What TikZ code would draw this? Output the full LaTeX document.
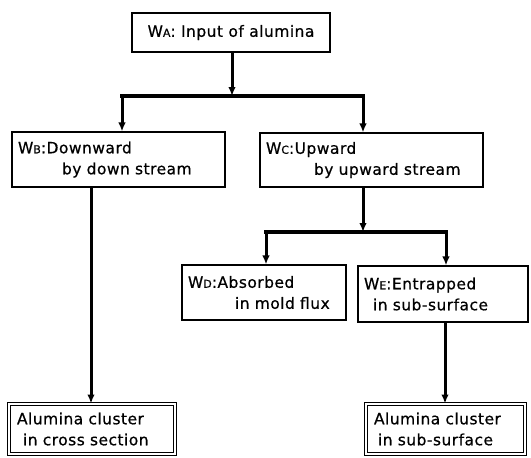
\documentclass[tikz,border=0pt]{standalone}
\usepackage{fontspec}
\setmainfont{DejaVu Sans}[LetterSpace=3,FakeBold=0.6]
\usetikzlibrary{arrows.meta}
\newcommand\wsub[1]{{\fontsize{11}{11}\selectfont #1}}
\begin{document}
\begin{tikzpicture}[x=1pt,y=-1pt,
  box/.style={draw, line width=1.1pt, inner xsep=6pt, inner ysep=0pt, align=left,
    font=\fontsize{15.5}{21}\selectfont},
  dbox/.style={box, double, line width=0.9pt, double distance=2pt, inner xsep=8pt},
  conn/.style={line width=3pt},
  arr/.style={conn, -{Latex[length=9pt,width=7.5pt]}},
  split/.style={line width=4pt, line cap=rect}
]
\useasboundingbox (0,0) rectangle (531,458);

% boxes
\node[box, minimum width=198pt, minimum height=39pt, align=center] (A) at (231,32.5)
  {W\wsub{A}: Input of alumina};
\node[box, text width=201pt, minimum height=55pt] (B) at (118.5,159.5)
  {\mbox{W\wsub{B}:Downward}\\\mbox{\hspace*{44pt}by down stream}};
\node[box, text width=211pt, minimum height=54pt] (C) at (371.5,160)
  {\mbox{W\wsub{C}:Upward}\\\mbox{\hspace*{48pt}by upward stream}};
\node[box, text width=152pt, minimum height=55pt] (D) at (264,292.5)
  {\mbox{W\wsub{D}:Absorbed}\\\mbox{\hspace*{47pt}in mold flux}};
\node[box, text width=158pt, minimum height=56pt] (E) at (443,294)
  {\mbox{W\wsub{E}:Entrapped}\\\mbox{\hspace*{9pt}in sub-surface}};
\node[dbox, text width=150pt, minimum height=50pt] (F) at (92,429)
  {\mbox{Alumina cluster}\\\mbox{\hspace*{6pt}in cross section}};
\node[dbox, text width=143pt, minimum height=50pt] (G) at (445.5,429)
  {\mbox{Alumina cluster}\\\mbox{\hspace*{4pt}in sub-surface}};

% junctions
\coordinate (j1) at (232,96);
\coordinate (j1l) at (122,96);
\coordinate (j1r) at (363,96);
\coordinate (j2) at (363,232);
\coordinate (j2l) at (266,232);
\coordinate (j2r) at (446,232);

% connectors
\draw[arr] (A.south -| j1) -- (j1);
\draw[split] (j1l) -- (j1r);
\draw[arr] (j1l) -- (j1l |- B.north);
\draw[arr] (j1r) -- (j1r |- C.north);
\draw[arr] (B.south -| 91,0) -- (F.north -| 91,0);
\draw[arr] (C.south -| j2) -- (j2);
\draw[split] (j2l) -- (j2r);
\draw[arr] (j2l) -- (j2l |- D.north);
\draw[arr] (j2r) -- (j2r |- E.north);
\draw[arr] (E.south -| 445,0) -- (G.north -| 445,0);
\end{tikzpicture}
\end{document}
